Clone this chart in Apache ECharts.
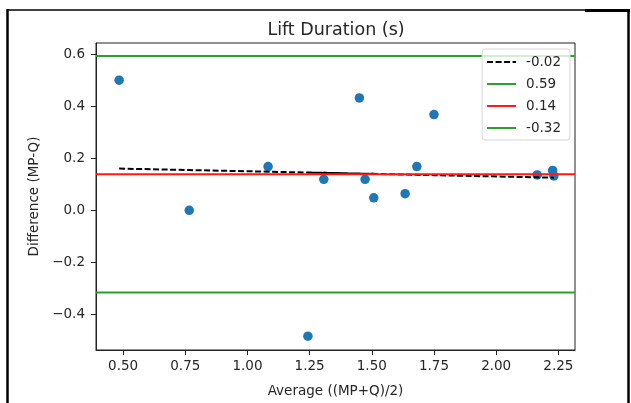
<!DOCTYPE html>
<html>
<head>
<meta charset="utf-8">
<script src="https://cdn.jsdelivr.net/npm/echarts@6/dist/echarts.min.js"></script>
<style>
  html, body { margin: 0; padding: 0; background: #fff; }
  #chart { width: 631px; height: 403px; }
</style>
</head>
<body>
<div id="chart"></div>
<script>
// Bland-Altman data: mean of the two methods vs. their difference
const averages    = [0.484, 0.766, 1.083, 1.473, 1.243, 1.508, 1.307, 1.450, 1.634, 1.681, 1.750, 2.165, 2.232, 2.227];
const differences = [0.500, 0.000, 0.168, 0.119, -0.484, 0.048, 0.119, 0.432, 0.064, 0.168, 0.368, 0.136, 0.132, 0.153];

// Regression of difference on average, and agreement lines
const slope = -0.02;
const intercept = 0.17;
const upperLimit = 0.593;
const meanDiff = 0.139;
const lowerLimit = -0.316;

// Axis ranges and ticks
const xRange = [0.391, 2.317];
const yRange = [-0.537, 0.643];
const xTicks = [0.50, 0.75, 1.00, 1.25, 1.50, 1.75, 2.00, 2.25];
const yTicks = [-0.4, -0.2, 0.0, 0.2, 0.4, 0.6];

const FONT = 'DejaVu Sans';
const TEXT = '#262626';
const FS = 13.5;

const chart = echarts.init(document.getElementById('chart'), null, { renderer: 'canvas' });

const scatterData = averages.map((x, i) => [x, differences[i]]);
const regressionData = averages.map(x => [x, intercept + slope * x]);
const hline = v => [[xRange[0], v], [xRange[1], v]];

const fmtSigned = v => (v < 0 ? '\u2212' : '') + Math.abs(v).toFixed(1);

chart.setOption({
  animation: false,
  backgroundColor: '#fff',
  title: {
    text: 'Lift Duration (s)',
    left: 331,
    textAlign: 'center',
    top: 16,
    textStyle: { fontFamily: FONT, fontSize: 17.5, fontWeight: 'normal', color: TEXT }
  },
  grid: {
    left: 96, right: 56, top: 43, bottom: 48,
    show: true, borderColor: '#222', borderWidth: 1, backgroundColor: 'transparent'
  },
  legend: {
    right: 61, top: 49,
    orient: 'vertical',
    itemWidth: 29, itemHeight: 14, itemGap: 8,
    padding: [6, 9, 5, 4],
    backgroundColor: 'rgba(255,255,255,0.8)',
    borderColor: '#d6d6d6', borderWidth: 1, borderRadius: 3,
    itemStyle: { opacity: 0 },
    textStyle: { fontFamily: FONT, fontSize: FS, color: TEXT, padding: [0, 0, 0, 5] },
    data: ['-0.02', '0.59', '0.14', '-0.32']
  },
  xAxis: {
    type: 'value',
    min: xRange[0], max: xRange[1],
    name: 'Average ((MP+Q)/2)',
    nameLocation: 'middle', nameGap: 34,
    nameTextStyle: { fontFamily: FONT, fontSize: FS, color: TEXT },
    splitLine: { show: false },
    axisLine: { show: true, onZero: false, lineStyle: { color: '#222', width: 1 } },
    axisTick: { show: true, length: 5, lineStyle: { color: '#222' }, customValues: xTicks },
    axisLabel: {
      fontFamily: FONT, fontSize: FS, color: TEXT, margin: 9,
      customValues: xTicks, formatter: v => v.toFixed(2)
    }
  },
  yAxis: {
    type: 'value',
    min: yRange[0], max: yRange[1],
    name: 'Difference (MP-Q)',
    nameLocation: 'middle', nameGap: 50, nameRotate: 90,
    nameTextStyle: { fontFamily: FONT, fontSize: FS, color: TEXT },
    splitLine: { show: false },
    axisLine: { show: true, onZero: false, lineStyle: { color: '#222', width: 1 } },
    axisTick: { show: true, length: 5, lineStyle: { color: '#222' }, customValues: yTicks },
    axisLabel: {
      fontFamily: FONT, fontSize: FS, color: TEXT, margin: 11,
      customValues: yTicks, formatter: fmtSigned
    }
  },
  series: [
    {
      name: 'points', type: 'scatter', data: scatterData,
      symbolSize: 9.5, itemStyle: { color: '#1f77b4', opacity: 1 }, z: 1
    },
    {
      name: slope.toFixed(2), type: 'line', data: regressionData,
      symbol: 'none', itemStyle: { color: '#000' },
      lineStyle: { color: '#000', width: 2, type: [6, 2.5] }, z: 2
    },
    {
      name: upperLimit.toFixed(2), type: 'line', data: hline(upperLimit),
      symbol: 'none', itemStyle: { color: '#2ca02c' },
      lineStyle: { color: '#2ca02c', width: 2 }, z: 3
    },
    {
      name: meanDiff.toFixed(2), type: 'line', data: hline(meanDiff),
      symbol: 'none', itemStyle: { color: '#ff1a1a' },
      lineStyle: { color: '#ff1a1a', width: 2 }, z: 3
    },
    {
      name: lowerLimit.toFixed(2), type: 'line', data: hline(lowerLimit),
      symbol: 'none', itemStyle: { color: '#2ca02c' },
      lineStyle: { color: '#2ca02c', width: 2 }, z: 3
    }
  ],
  // Screenshot frame around the figure
  graphic: [
    { type: 'line', shape: { x1: 7, y1: 10, x2: 585, y2: 10 }, style: { stroke: '#000', lineWidth: 1.5 } },
    { type: 'line', shape: { x1: 585, y1: 10.5, x2: 630, y2: 10.5 }, style: { stroke: '#000', lineWidth: 3 } },
    { type: 'line', shape: { x1: 7.5, y1: 9, x2: 7.5, y2: 403 }, style: { stroke: '#000', lineWidth: 2.5 } },
    { type: 'line', shape: { x1: 628.5, y1: 9, x2: 628.5, y2: 403 }, style: { stroke: '#000', lineWidth: 2.5 } }
  ]
});
</script>
</body>
</html>
